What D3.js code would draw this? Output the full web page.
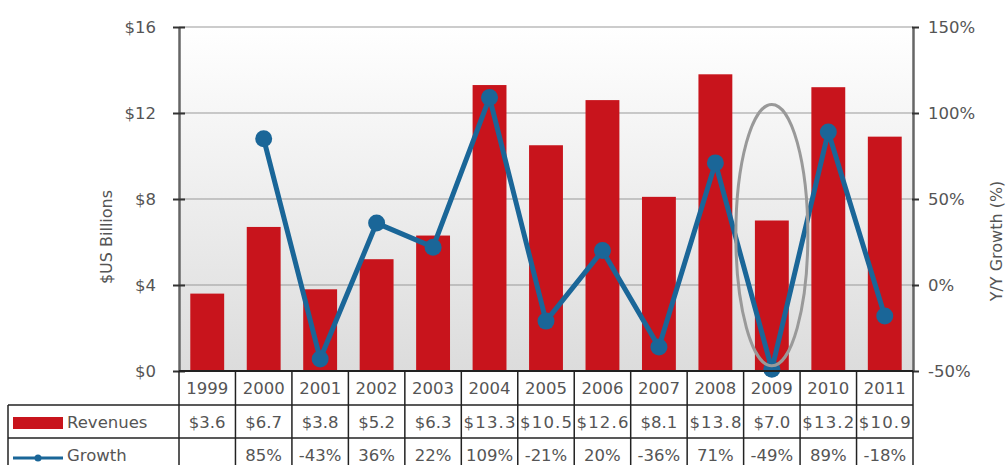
<!DOCTYPE html>
<html>
<head>
<meta charset="utf-8">
<script src="https://cdn.jsdelivr.net/npm/d3@7"></script>
<style>
  body { margin: 0; background: #fff; }
  svg { display: block; font-family: "DejaVu Sans", Verdana, sans-serif; }
</style>
</head>
<body>
<svg width="1007" height="465"></svg>
<script>
const years = ["1999", "2000", "2001", "2002", "2003", "2004", "2005", "2006", "2007", "2008", "2009", "2010", "2011"];
const revenues = [3.6, 6.7, 3.8, 5.2, 6.3, 13.3, 10.5, 12.6, 8.1, 13.8, 7.0, 13.2, 10.9];
const growth = [null, 85, -43, 36, 22, 109, -21, 20, -36, 71, -49, 89, -18];
const revTicks = [0, 4, 8, 12, 16];
const growthTicks = [-50, 0, 50, 100, 150];
const highlightYear = "2009";

const svg = d3.select("svg");
const plotLeft = 179, plotRight = 913, plotTop = 27, plotBottom = 371;
const rowH = [34, 33, 33];
const textColor = "#555";
const red = "#c8141c";
const blue = "#1a6698";
const fontSize = 16.5;

const x = d3.scaleBand().domain(years).range([plotLeft, plotRight]).paddingInner(0.4).paddingOuter(0.2);
const xCol = d3.scaleBand().domain(years).range([plotLeft, plotRight]);
const yRev = d3.scaleLinear().domain([0, 16]).range([plotBottom, plotTop]);
const yGrowth = d3.scaleLinear().domain([-50, 150]).range([plotBottom, plotTop]);

// plot background gradient
const defs = svg.append("defs");
const grad = defs.append("linearGradient").attr("id", "bg").attr("x1", 0).attr("y1", 0).attr("x2", 0).attr("y2", 1);
grad.append("stop").attr("offset", "0%").attr("stop-color", "#ffffff");
grad.append("stop").attr("offset", "100%").attr("stop-color", "#dcdcdc");

svg.append("rect")
  .attr("x", plotLeft).attr("y", plotTop)
  .attr("width", plotRight - plotLeft).attr("height", plotBottom - plotTop)
  .attr("fill", "url(#bg)");

// gridlines
svg.append("g")
  .selectAll("line")
  .data(revTicks.slice(1))
  .enter()
  .append("line")
  .attr("x1", plotLeft).attr("x2", plotRight)
  .attr("y1", d => yRev(d)).attr("y2", d => yRev(d))
  .attr("stroke", "#999").attr("stroke-width", 1);

// bars
svg.append("g")
  .selectAll("rect")
  .data(revenues)
  .enter()
  .append("rect")
  .attr("x", (d, i) => x(years[i]))
  .attr("width", x.bandwidth())
  .attr("y", d => yRev(d))
  .attr("height", d => yRev(0) - yRev(d))
  .attr("fill", red);

// growth line
const pts = growth.map((g, i) => ({ year: years[i], g })).filter(d => d.g !== null);
const line = d3.line()
  .x(d => xCol(d.year) + xCol.bandwidth() / 2)
  .y(d => yGrowth(d.g));

svg.append("path")
  .datum(pts)
  .attr("d", line)
  .attr("fill", "none")
  .attr("stroke", blue)
  .attr("stroke-width", 5)
  .attr("stroke-linejoin", "round");

svg.append("g")
  .selectAll("circle")
  .data(pts)
  .enter()
  .append("circle")
  .attr("cx", d => xCol(d.year) + xCol.bandwidth() / 2)
  .attr("cy", d => yGrowth(d.g))
  .attr("r", 8.5)
  .attr("fill", blue);

// axes
const leftAxis = svg.append("g")
  .attr("transform", `translate(${plotLeft},0)`)
  .call(d3.axisLeft(yRev).tickValues(revTicks).tickFormat(d => "$" + d).tickSizeInner(6).tickSizeOuter(0).tickPadding(17));
const rightAxis = svg.append("g")
  .attr("transform", `translate(${plotRight},0)`)
  .call(d3.axisRight(yGrowth).tickValues(growthTicks).tickFormat(d => d + "%").tickSizeInner(6).tickSizeOuter(0).tickPadding(9));

[leftAxis, rightAxis].forEach(a => {
  a.select(".domain").attr("stroke", "#666").attr("stroke-width", 2.5);
  a.selectAll(".tick line").attr("stroke", "#333").attr("stroke-width", 2);
  a.selectAll(".tick text").attr("fill", textColor).attr("font-size", fontSize)
    .attr("font-family", "'DejaVu Sans', Verdana, sans-serif");
});
leftAxis.selectAll(".tick line").attr("x1", 6).attr("x2", -6);
rightAxis.selectAll(".tick line").attr("x1", -1).attr("x2", 6);

// axis titles
svg.append("text")
  .attr("transform", "translate(112,237) rotate(-90)")
  .attr("text-anchor", "middle")
  .attr("fill", textColor)
  .attr("font-size", 16)
  .text("$US Billions");
svg.append("text")
  .attr("transform", "translate(1002,241) rotate(-90)")
  .attr("text-anchor", "middle")
  .attr("fill", textColor)
  .attr("font-size", 16)
  .text("Y/Y Growth (%)");

// highlight ellipse around 2009
svg.append("ellipse")
  .attr("cx", xCol(highlightYear) + xCol.bandwidth() / 2)
  .attr("cy", (yGrowth(-47) + yRev(12.4)) / 2)
  .attr("rx", 36)
  .attr("ry", (yGrowth(-47) - yRev(12.4)) / 2)
  .attr("fill", "none")
  .attr("stroke", "#999")
  .attr("stroke-width", 3);

// data table
const table = svg.append("g").attr("font-size", fontSize).attr("fill", textColor);
const r0 = plotBottom, r1 = r0 + rowH[0], r2 = r1 + rowH[1], r3 = r2 + rowH[2];
const tableLeft = 8;
const borderColor = "#222";

// year row
table.selectAll(".yr")
  .data(years)
  .enter()
  .append("text")
  .attr("x", d => xCol(d) + xCol.bandwidth() / 2)
  .attr("y", r0 + rowH[0] / 2 + 6)
  .attr("text-anchor", "middle")
  .text(d => d);

table.selectAll(".rev")
  .data(revenues)
  .enter()
  .append("text")
  .attr("x", (d, i) => xCol(years[i]) + xCol.bandwidth() / 2)
  .attr("y", r1 + rowH[1] / 2 + 6)
  .attr("text-anchor", "middle")
  .attr("textLength", d => d >= 10 ? 52 : null)
  .text(d => "$" + d.toFixed(1));

table.selectAll(".gr")
  .data(growth)
  .enter()
  .append("text")
  .attr("x", (d, i) => xCol(years[i]) + xCol.bandwidth() / 2)
  .attr("y", r2 + rowH[2] / 2 + 6)
  .attr("text-anchor", "middle")
  .text(d => d === null ? "" : d + "%");

// legend cells
table.append("rect").attr("x", 13).attr("y", r1 + 12).attr("width", 50).attr("height", 12).attr("fill", red);
table.append("text").attr("x", 67).attr("y", r1 + rowH[1] / 2 + 6).text("Revenues");
table.append("line").attr("x1", 13).attr("x2", 63).attr("y1", r2 + 20).attr("y2", r2 + 20)
  .attr("stroke", blue).attr("stroke-width", 3);
table.append("circle").attr("cx", 38).attr("cy", r2 + 20).attr("r", 3.5).attr("fill", blue);
table.append("text").attr("x", 67).attr("y", r2 + rowH[2] / 2 + 6).text("Growth");

// table borders
const borders = svg.append("g").attr("stroke", borderColor).attr("stroke-width", 1.5);
[r1, r2].forEach(yy => {
  borders.append("line").attr("x1", tableLeft).attr("x2", plotRight).attr("y1", yy).attr("y2", yy);
});
borders.append("line").attr("x1", plotLeft).attr("x2", plotRight).attr("y1", r0).attr("y2", r0).attr("stroke-width", 2);
borders.append("line").attr("x1", tableLeft).attr("x2", tableLeft).attr("y1", r1).attr("y2", r3);
borders.selectAll(".col")
  .data(years.concat(["end"]))
  .enter()
  .append("line")
  .attr("x1", (d, i) => plotLeft + i * xCol.bandwidth())
  .attr("x2", (d, i) => plotLeft + i * xCol.bandwidth())
  .attr("y1", r0).attr("y2", r3);
</script>
</body>
</html>
